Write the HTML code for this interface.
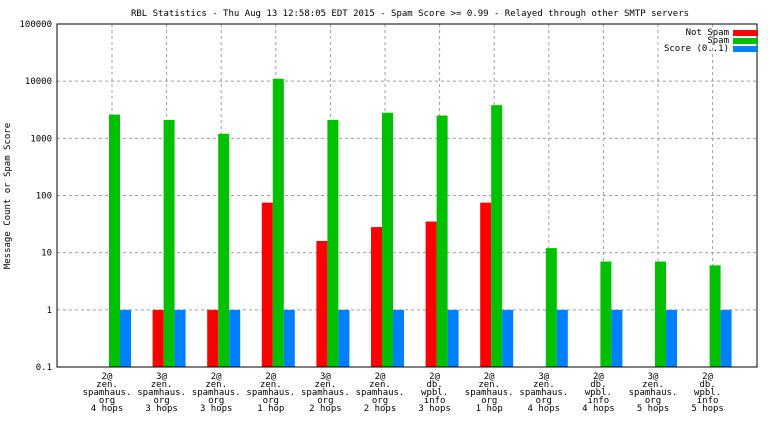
<!DOCTYPE html>
<html><head><meta charset="utf-8"><style>
body{margin:0;background:#fff}
svg text{font-family:"DejaVu Sans Mono","Liberation Mono",monospace;font-size:9px;fill:#000}
</style></head><body>
<svg id="c" width="768" height="432">
<text x="410" y="16" text-anchor="middle">RBL Statistics - Thu Aug 13 12:58:05 EDT 2015 - Spam Score &gt;= 0.99 - Relayed through other SMTP servers</text>
<text transform="translate(10,196) rotate(-90)" text-anchor="middle">Message Count or Spam Score</text>
<g id="grid"></g><g id="bars"></g><g id="labels"></g>
<rect x="57" y="24" width="700" height="343" fill="none" stroke="#000"/>
<g>
<text x="729" y="35" text-anchor="end">Not Spam</text><rect x="733" y="30" width="25" height="6" fill="#ff0000"/>
<text x="729" y="43" text-anchor="end">Spam</text><rect x="733" y="38" width="25" height="6" fill="#00c000"/>
<text x="729" y="51" text-anchor="end">Score (0..1)</text><rect x="733" y="46" width="25" height="6" fill="#0080ff"/>
</g>
</svg>
<script>
const categories=[["2@","zen.","spamhaus.","org","4 hops"],["3@","zen.","spamhaus.","org","3 hops"],["2@","zen.","spamhaus.","org","3 hops"],["2@","zen.","spamhaus.","org","1 hop"],["3@","zen.","spamhaus.","org","2 hops"],["2@","zen.","spamhaus.","org","2 hops"],["2@","db.","wpbl.","info","3 hops"],["2@","zen.","spamhaus.","org","1 hop"],["3@","zen.","spamhaus.","org","4 hops"],["2@","db.","wpbl.","info","4 hops"],["3@","zen.","spamhaus.","org","5 hops"],["2@","db.","wpbl.","info","5 hops"]];
const notSpam=[0,1,1,75,16,28,35,75,0,0,0,0];
const spam=[2600,2100,1200,11000,2100,2800,2500,3800,12,7,7,6];
const score=[1,1,1,1,1,1,1,1,1,1,1,1];
const yTicks=[0.1,1,10,100,1000,10000,100000];
const yTickLabels=["0.1","1","10","100","1000","10000","100000"];
const NS="http://www.w3.org/2000/svg";
const y=v=>367-(Math.log10(v)+1)*57.17;
const x=i=>112+54.6*i;
function mk(p,t,a){const e=document.createElementNS(NS,t);for(const k in a)e.setAttribute(k,a[k]);document.getElementById(p).appendChild(e);return e;}
yTicks.forEach((v,k)=>{
 if(k>0&&k<yTicks.length-1){const l=mk('grid','line',{x1:57,x2:757,y1:y(v),y2:y(v),stroke:'#a0a0a0','stroke-dasharray':'3,3'});
 
 }
 const t=mk('labels','text',{x:52,y:y(v)+3,'text-anchor':'end'});t.textContent=yTickLabels[k];
 
 
});
categories.forEach((c,i)=>{
 const g=mk('grid','line',{x1:x(i),x2:x(i),y1:24,y2:367,stroke:'#a0a0a0','stroke-dasharray':'3,3'});
 
 
 const ser=[[notSpam,'#ff0000',-14,'bar-not-spam'],[spam,'#00c000',-3,'bar-spam'],[score,'#0080ff',8,'bar-score']];
 ser.forEach(s=>{const v=s[0][i];if(v>0){const yy=y(v);
  const r=mk('bars','rect',{x:x(i)+s[2],y:yy,width:11,height:367-yy,fill:s[1]});
  
  }});
 c.forEach((ln,j)=>{const t=mk('labels','text',{x:x(i)-5,y:379+j*8,'text-anchor':'middle'});t.textContent=ln;
  
  });
});
</script>
</body></html>
